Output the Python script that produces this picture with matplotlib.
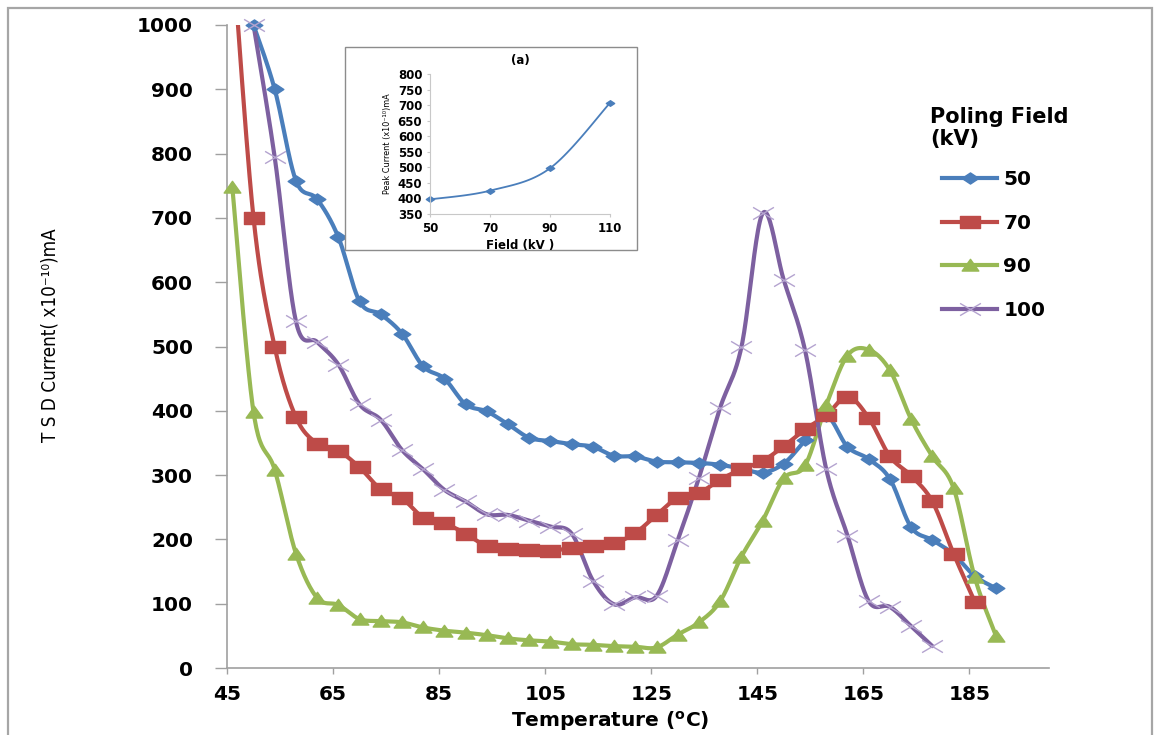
import numpy as np
import matplotlib
matplotlib.use("Agg")
import matplotlib.pyplot as plt
from matplotlib.path import Path
from matplotlib.lines import Line2D
from matplotlib.patches import Rectangle
from matplotlib import font_manager as fm

# data
temp = [46, 50, 54, 58, 62, 66, 70, 74, 78, 82, 86, 90, 94, 98, 102, 106, 110,
        114, 118, 122, 126, 130, 134, 138, 142, 146, 150, 154, 158, 162, 166,
        170, 174, 178, 182, 186, 190]

kv50 = [1000, 900, 758, 729, 670, 570, 550, 520, 469, 450, 410, 399, 379, 358,
        353, 348, 344, 330, 329, 321, 320, 319, 316, 310, 304, 318, 354, 392,
        344, 325, 294, 219, 199, 177, 143, 124]
kv70 = [1120, 700, 499, 390, 349, 338, 312, 278, 264, 234, 225, 209, 189, 185,
        183, 182, 187, 190, 194, 210, 238, 265, 272, 293, 309, 322, 345, 371,
        393, 422, 389, 329, 299, 259, 178, 103]
kv90 = [748, 398, 308, 178, 109, 98, 76, 73, 71, 63, 58, 55, 51, 46, 43, 41, 37,
        36, 34, 33, 32, 52, 71, 104, 173, 229, 295, 315, 409, 486, 495, 463,
        387, 329, 280, 141, 50]
kv100 = [1000, 794, 539, 507, 472, 410, 386, 339, 309, 277, 259, 239, 238, 229,
         220, 209, 136, 99, 110, 112, 199, 296, 405, 499, 707, 603, 494, 309,
         206, 104, 95, 65, 34]

t50 = temp[1:1 + len(kv50)]
t70 = temp[0:len(kv70)]
t90 = temp[0:len(kv90)]
t100 = temp[1:1 + len(kv100)]

field = [50, 70, 90, 110]
peak = [397, 425, 497, 707]

labels = ['50', '70', '90', '100']
colors = ['#4A7EBB', '#BE4B48', '#98B954', '#7D60A0']

# a condensed font for the axis titles, if one is installed
narrow_file = None
for want in ['DejaVuSansCondensed.ttf', 'LiberationSansNarrow-Regular.ttf']:
    for f in fm.fontManager.ttflist:
        if f.fname.endswith(want):
            narrow_file = f.fname
            break
    if narrow_file:
        break


def narrow_font(size):
    if narrow_file:
        return fm.FontProperties(fname=narrow_file, size=size)
    return fm.FontProperties(family='DejaVu Sans', size=size * 0.9)


def smooth(xs, ys, sx, sy, n=24):
    # excel style smoothed line (bezier through the points)
    p = np.column_stack([np.array(xs, float) * sx, np.array(ys, float) * sy])
    out = [p[0]]
    for i in range(len(p) - 1):
        p0 = p[i - 1] if i > 0 else p[i]
        p1 = p[i]
        p2 = p[i + 1]
        p3 = p[i + 2] if i + 2 < len(p) else p[i + 1]
        c1 = p1 + (p2 - p0) / 6
        c2 = p2 - (p3 - p1) / 6
        t = np.linspace(0, 1, n)[1:, None]
        seg = (1 - t) ** 3 * p1 + 3 * (1 - t) ** 2 * t * c1 + 3 * (1 - t) * t ** 2 * c2 + t ** 3 * p2
        out.extend(seg)
    out = np.array(out)
    return out[:, 0] / sx, out[:, 1] / sy


diamond = Path([(0, 1), (1.5, 0), (0, -1), (-1.5, 0), (0, 1)],
               [Path.MOVETO, Path.LINETO, Path.LINETO, Path.LINETO, Path.CLOSEPOLY])
square = Path([(-1.5, -1), (1.5, -1), (1.5, 1), (-1.5, 1), (-1.5, -1)],
              [Path.MOVETO, Path.LINETO, Path.LINETO, Path.LINETO, Path.CLOSEPOLY])
triangle = Path([(0, 1), (1.35, -0.9), (-1.35, -0.9), (0, 1)],
                [Path.MOVETO, Path.LINETO, Path.LINETO, Path.CLOSEPOLY])
cross = Path([(-1.7, -1), (1.7, 1), (-1.7, 1), (1.7, -1)],
             [Path.MOVETO, Path.LINETO, Path.MOVETO, Path.LINETO])

fig = plt.figure(figsize=(11.54, 7.35), dpi=100)
W, H = 1154, 735

# outer frame of the picture
fig.patches.append(Rectangle((8 / W, -0.05), 1144 / W, 1 - 8 / H + 0.05,
                             transform=fig.transFigure, fill=False,
                             edgecolor='#A6A6A6', linewidth=1.6))

ax = fig.add_axes([227 / W, 1 - 668 / H, (1049 - 227) / W, (668 - 25) / H])
ax.set_xlim(45, 200)
ax.set_ylim(0, 1000)
sx = (1049 - 227) / 155.0
sy = (668 - 25) / 1000.0

series = [(t50, kv50), (t70, kv70), (t90, kv90), (t100, kv100)]
markers = [dict(marker=diamond, markersize=12, markerfacecolor=colors[0], markeredgecolor=colors[0]),
           dict(marker=square, markersize=14, markerfacecolor=colors[1], markeredgecolor=colors[1]),
           dict(marker=triangle, markersize=12, markerfacecolor=colors[2], markeredgecolor=colors[2]),
           dict(marker=cross, markersize=15, markerfacecolor='none', markeredgecolor='#B4A3CF',
                markeredgewidth=1.0)]

handles = []
for (tx, vy), c, mk, lab in zip(series, colors, markers, labels):
    xs, ys = smooth(tx, vy, sx, sy)
    ax.plot(xs, ys, color=c, linewidth=3.0, solid_capstyle='round', zorder=3)
    tx = np.array(tx)
    vy = np.array(vy)
    keep = vy <= 1000
    ax.plot(tx[keep], vy[keep], linestyle='none', clip_on=False, zorder=4, **mk)
    handles.append(Line2D([], [], color=c, linewidth=3.0, label=lab, **mk))

for s in ['top', 'right']:
    ax.spines[s].set_visible(False)
for s in ['left', 'bottom']:
    ax.spines[s].set_color('#A0A0A0')
    ax.spines[s].set_linewidth(1.2)

ax.set_xticks(np.arange(45, 200, 20))
ax.set_yticks(np.arange(0, 1001, 100))
ax.tick_params(axis='y', length=8.5, width=1, color='#A0A0A0', pad=16, labelsize=14.5)
ax.tick_params(axis='x', length=4, width=1, color='#A0A0A0', pad=8, labelsize=14.5)
for lab in ax.get_xticklabels() + ax.get_yticklabels():
    lab.set_fontweight('bold')

ax.set_xlabel(r'Temperature ($^{\mathbf{o}}$C)', fontsize=14.5, fontweight='bold')
ax.xaxis.set_label_coords((610 - 227) / (1049 - 227), -(709 - 668) / (668 - 25))
ax.set_ylabel('T S D Current( x10⁻¹⁰)mA', fontproperties=narrow_font(13.5))
ax.yaxis.set_label_coords(-(227 - 60) / (1049 - 227), (668 - 335) / (668 - 25))

# legend
fig.text(930 / W, 1 - 107 / H, 'Poling Field\n(kV)', fontsize=15, fontweight='bold',
         va='top', ha='left', linespacing=1.1)
leg = fig.legend(handles=handles, loc='upper left', bbox_to_anchor=(942 / W, 1 - 170 / H),
                 frameon=False, borderpad=0, borderaxespad=0, handlelength=2.75,
                 handletextpad=0.3, labelspacing=1.22,
                 prop={'size': 14.5, 'weight': 'bold'})

# inset (a)
fig.patches.append(Rectangle((345 / W, 1 - 250 / H), (637 - 345) / W, (250 - 47) / H,
                             transform=fig.transFigure, facecolor='white',
                             edgecolor='#8C8C8C', linewidth=1.0, zorder=5))
ins = fig.add_axes([430 / W, 1 - 214 / H, (610 - 430) / W, (214 - 74) / H], zorder=6)
ins.patch.set_alpha(0)
xs, ys = smooth(field, peak, 180 / 60.0, 140 / 450.0)
ins.plot(xs, ys, color='#4A7EBB', linewidth=1.3)
ins.plot(field, peak, linestyle='none', marker=diamond, markersize=6,
         color='#4A7EBB', clip_on=False)
ins.set_xlim(50, 110)
ins.set_ylim(350, 800)
ins.set_xticks(field)
ins.set_yticks(np.arange(350, 801, 50))
for s in ['top', 'right']:
    ins.spines[s].set_visible(False)
for s in ['left', 'bottom']:
    ins.spines[s].set_color('#C8C8C8')
    ins.spines[s].set_linewidth(0.8)
ins.tick_params(length=2.5, width=0.8, color='#C8C8C8', pad=3, labelsize=8.5)
for lab in ins.get_xticklabels() + ins.get_yticklabels():
    lab.set_fontweight('bold')
ins.set_xlabel('Field (kV )', fontsize=8.5, fontweight='bold', labelpad=3)
ins.set_ylabel('Peak Current (x10⁻¹⁰)mA', fontproperties=narrow_font(6.5), labelpad=4)
ins.set_title('(a)', fontsize=8.5, fontweight='bold', pad=7)

fig.savefig('out.png', dpi=100)
